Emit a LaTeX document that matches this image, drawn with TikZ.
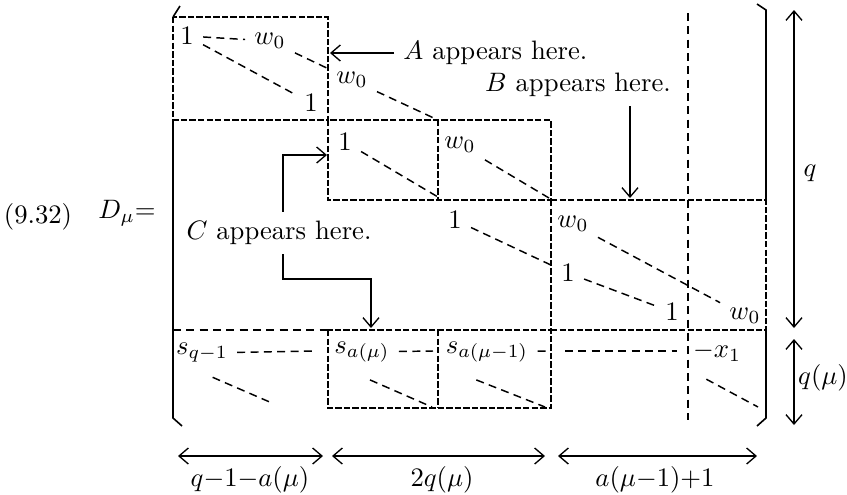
\documentclass[tikz,border=0pt]{standalone}
\usetikzlibrary{arrows.meta}
\newcommand{\ent}[3]{\node (#1) at (#2) {$#3$}}
\newcommand{\dimar}[2]{\draw[dimarr] (#1) -- (#2)}
\newcommand{\brk}[1]{\draw[brak] #1}

\begin{document}
\begin{tikzpicture}[x=0.375pt,y=-0.375pt,
	dline/.style={dash pattern=on 3pt off 2pt,line width=0.55pt},
	bline/.style={dash pattern=on 2.4pt off 0.8pt,line width=1.05pt},
	brak/.style={line width=0.6pt},
	arr/.style={line width=0.5pt,-{Straight Barb[length=3.5pt,width=6pt]}},
	dimarr/.style={line width=0.5pt,{Straight Barb[length=3.5pt,width=6pt]}-{Straight Barb[length=3.5pt,width=6pt]}}]
\useasboundingbox (0,0) rectangle (847,494);
%Brackets
	\brk{(180,6) -- (173,17)};
	\brk{(173,120) -- (173,418) -- (182,426)};
	\brk{(757,4) -- (766,10) -- (766,200)};
	\brk{(766,330) -- (766,418) -- (757,426)};
%Blocks
	\draw[bline] (173,17) rectangle (328,120);
	\draw[bline] (328,120) rectangle (551,200);
	\draw[bline] (438,120) -- (438,200);
	\draw[bline] (551,200) -- (766,200) -- (766,330);
	\draw[bline] (551,200) -- (551,330);
	\draw[bline] (328,330) rectangle (551,408);
	\draw[bline] (438,330) -- (438,408);
	\draw[bline] (551,330) -- (766,330);
	\draw[dline] (173,330) -- (328,330);
	\draw[dline] (688,13) -- (688,420);
%Entries
	\ent{oneA}{187,36}{1};
	\ent{wA}{270,41}{w_0};
	\ent{oneB}{311,103}{1};
	\ent{wB}{352,80}{w_0};
	\ent{oneC}{345,142}{1};
	\ent{wC}{460,145}{w_0};
	\ent{oneD}{455,220}{1};
	\ent{wD}{573,224}{w_0};
	\ent{oneE}{568,273}{1};
	\ent{oneF}{672,312}{1};
	\ent{wE}{745,316}{w_0};
	\ent{sq}{202,353}{s_{q-1}};
	\ent{sa}{362,352}{s_{a(\mu)}};
	\ent{sb}{487,352}{s_{a(\mu-1)}};
	\ent{xone}{717,352}{-x_1};
%Ends of the dashes
	\coordinate (eB) at (438,120);
	\coordinate (eC) at (438,197);
	\coordinate (eW) at (549,198);
	\coordinate (sqh) at (313,351);
	\coordinate (sqd) at (272,403);
	\coordinate (sah) at (433,351);
	\coordinate (sad) at (432,407);
	\coordinate (sbh) at (547,351);
	\coordinate (sbd) at (545,407);
	\coordinate (rhA) at (565,351);
	\coordinate (rhB) at (677,351);
	\coordinate (xd) at (758,407);
%Diagonals
	\draw[dline] (oneA) -- (wA);
	\draw[dline] (oneA) -- (oneB);
	\draw[dline] (wA) -- (wB);
	\draw[dline] (wB) -- (eB);
	\draw[dline] (oneC) -- (eC);
	\draw[dline] (wC) -- (eW);
	\draw[dline] (oneD) -- (oneE);
	\draw[dline] (oneE) -- (oneF);
	\draw[dline] (wD) -- (wE);
	\draw[dline] (sq) -- (sqh);
	\draw[dline] ([shift={(4pt,-2pt)}]sq.south) -- (sqd);
	\draw[dline] (sa) -- (sah);
	\draw[dline] ([shift={(3pt,-3pt)}]sa.south) -- (sad);
	\draw[dline] (sb) -- (sbh);
	\draw[dline] (rhA) -- (rhB);
	\draw[dline] ([shift={(-4pt,-3pt)}]sb.south) -- (sbd);
	\draw[dline] ([shift={(-4pt,-3pt)}]xone.south) -- (xd);
%Remarks
	\node[anchor=west] (Atxt) at (394,53) {$A$ appears here.};
	\node (Btxt) at (578,85) {$B$ appears here.};
	\node (Ctxt) at (279,233) {$C$ appears here.};
	\coordinate (aA) at (330,53);
	\coordinate (aB) at (630,198);
	\coordinate (cup) at (283,155);
	\coordinate (aC) at (327,155);
	\coordinate (cbend) at (283,279);
	\coordinate (aD) at (371,328);
	\draw[arr] (Atxt.west) -- (aA);
	\draw[arr] (Btxt.south -| aB) -- (aB);
	\draw[arr] (Ctxt.north -| cup) -- (cup) -- (aC);
	\draw[arr] (Ctxt.south -| cbend) -- (cbend) -| (aD);
%Left side
	\node (eqn) at (38,217) {(9.32)};
	\node (Dmu) at (127,213) {$D_\mu{=}$};
%Sizes
	\coordinate (qt) at (794,10);
	\coordinate (qb) at (794,328);
	\coordinate (rt) at (794,339);
	\coordinate (rb) at (794,425);
	\dimar{qt}{qb};
	\dimar{rt}{rb};
	\node (qlab) at (810,173) {$q$};
	\node (rlab) at (823,378) {$q(\mu)$};
	\coordinate (hA) at (178,456);
	\coordinate (hB) at (323,456);
	\coordinate (hC) at (332,456);
	\coordinate (hD) at (545,456);
	\coordinate (hE) at (558,456);
	\coordinate (hF) at (757,456);
	\dimar{hA}{hB};
	\dimar{hC}{hD};
	\dimar{hE}{hF};
	\node (labA) at (250,480) {$q{-}1{-}a(\mu)$};
	\node (labB) at (442,480) {$2q(\mu)$};
	\node (labC) at (655,480) {$a(\mu{-}1){+}1$};
\end{tikzpicture}
\end{document}
